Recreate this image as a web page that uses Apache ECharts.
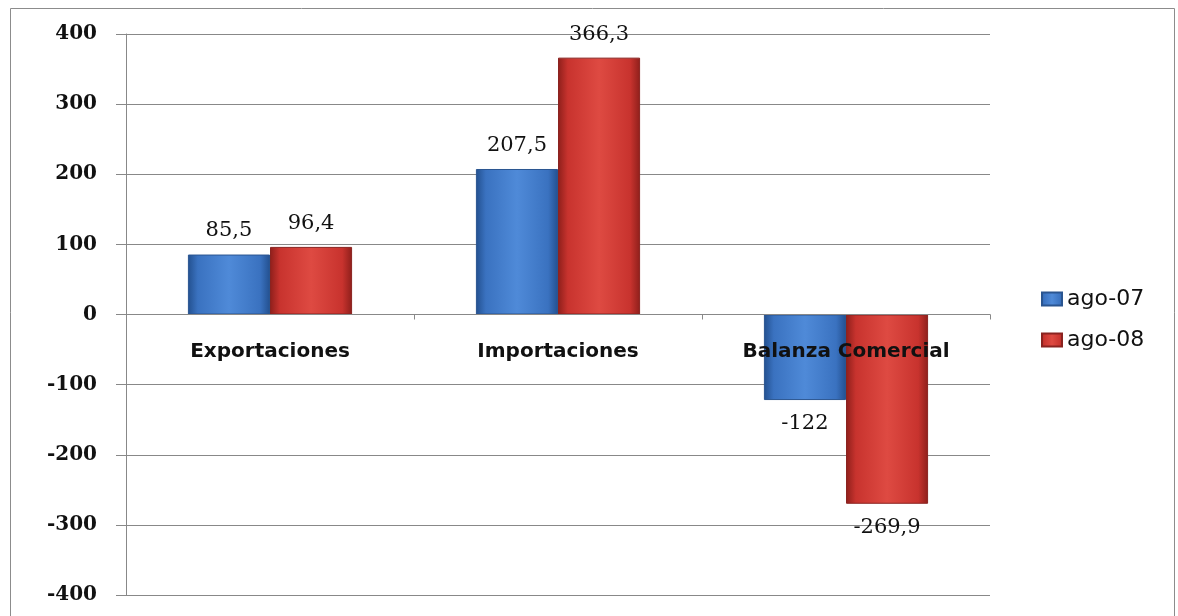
<!DOCTYPE html>
<html>
<head>
<meta charset="utf-8">
<script src="https://cdn.jsdelivr.net/npm/echarts@6/dist/echarts.min.js"></script>
<style>
html,body{margin:0;padding:0;background:#fff;}
#chart{width:1178px;height:616px;}
</style>
</head>
<body>
<div id="chart"></div>
<script>
const categories = ['Exportaciones', 'Importaciones', 'Balanza Comercial'];
const seriesNames = ['ago-07', 'ago-08'];
const ago07 = [85.5, 207.5, -122];
const ago08 = [96.4, 366.3, -269.9];
const yTicks = [-400, -300, -200, -100, 0, 100, 200, 300, 400];

const fmt = v => String(v).replace('.', ',');

function grad(dark, mid, light) {
  return new echarts.graphic.LinearGradient(0, 0, 1, 0, [
    {offset: 0, color: dark},
    {offset: 0.12, color: mid},
    {offset: 0.5, color: light},
    {offset: 0.88, color: mid},
    {offset: 1, color: dark}
  ]);
}

const chart = echarts.init(document.getElementById('chart'));
const labelStyle = {
  show: true,
  position: 'outside',
  distance: 13,
  fontFamily: 'DejaVu Serif',
  fontSize: 21,
  color: '#111',
  formatter: p => fmt(p.value)
};

chart.setOption({
  animation: false,
  backgroundColor: '#fff',
  color: ['#3f74bb', '#c0392f'],
  graphic: [{
    type: 'rect',
    shape: {x: 10.5, y: 8.5, width: 1164, height: 620},
    style: {fill: 'none', stroke: '#8c8c8c', lineWidth: 1},
    silent: true
  }],
  grid: {left: 126, right: 188, top: 34, bottom: 21, containLabel: false, outerBoundsMode: 'none'},
  legend: {
    orient: 'vertical',
    left: 1036,
    top: 283,
    itemWidth: 20,
    itemHeight: 13,
    itemGap: 19,
    icon: 'rect',
    textStyle: {fontFamily: 'DejaVu Sans', fontSize: 22, color: '#111'},
    data: seriesNames
  },
  xAxis: {
    type: 'category',
    data: categories,
    axisLine: {onZero: true, lineStyle: {color: '#888', width: 1}},
    axisTick: {show: true, length: 5, lineStyle: {color: '#888'}},
    axisLabel: {margin: -253, fontFamily: 'DejaVu Sans', fontWeight: 'bold', fontSize: 20, color: '#111'},
    z: 10
  },
  yAxis: {
    type: 'value',
    min: -400,
    max: 400,
    interval: 100,
    axisLine: {show: true, lineStyle: {color: '#888'}},
    axisTick: {show: true, length: 10, lineStyle: {color: '#888'}},
    axisLabel: {margin: 29, fontFamily: 'DejaVu Serif', fontWeight: 'bold', fontSize: 20, color: '#111',
      formatter: v => yTicks.includes(v) ? String(v) : ''},
    splitLine: {show: true, lineStyle: {color: '#888', width: 1}}
  },
  series: [
    {
      name: seriesNames[0],
      type: 'bar',
      data: ago07,
      barGap: '0%',
      barCategoryGap: '43%',
      itemStyle: {color: grad('#23508f', '#3a72c0', '#4f8ad8'), borderColor: '#2a5590', borderWidth: 1},
      label: labelStyle,
      z: 3
    },
    {
      name: seriesNames[1],
      type: 'bar',
      data: ago08,
      itemStyle: {color: grad('#8e1f1b', '#c8332e', '#de4a42'), borderColor: '#8a2320', borderWidth: 1},
      label: labelStyle,
      z: 3
    }
  ]
});
</script>
</body>
</html>
